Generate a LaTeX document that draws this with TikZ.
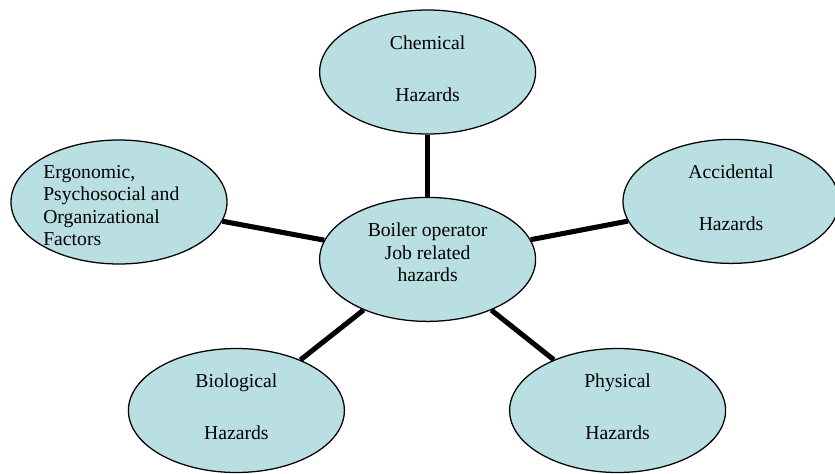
\documentclass[tikz,border=0pt]{standalone}
\usepackage{fontspec}
\setmainfont{Liberation Serif}
\usetikzlibrary{shapes.geometric}
\definecolor{bubblefill}{RGB}{185,223,227}

\begin{document}
\begin{tikzpicture}[
    bubble/.style={ellipse,draw=black,line width=0.9pt,fill=bubblefill,
        minimum width=5.4cm,minimum height=3.1cm,inner sep=0pt},
    bubbletext/.style={inner sep=0pt,align=center,font=\fontsize{14}{16}\selectfont},
    spoke/.style={line width=3.6pt}]
    %\draw[help lines] (0,0) grid (21,12);
    \useasboundingbox (0,0) rectangle (20.875,11.825);
    \node[bubble] (hub) at(10.69,5.34) {};
    \node[bubble] (chem) at(10.69,10.025) {};
    \node[bubble] (acc) at(18.275,6.79) {};
    \node[bubble] (ergo) at(2.975,6.775) {};
    \node[bubble] (bio) at(5.91,1.5625) {};
    \node[bubble] (phys) at(15.44,1.5625) {};
    \node[bubbletext,yshift=5pt] (hubtext) at(hub) {Boiler operator\\Job related\\hazards};
    \node[bubbletext,yshift=2.5pt] (chemtext) at(chem) {Chemical\\[21pt]Hazards};
    \node[bubbletext,yshift=2.5pt] (acctext) at(acc) {Accidental\\[21pt]Hazards};
    \node[bubbletext,yshift=2.5pt] (biotext) at(bio) {Biological\\[21pt]Hazards};
    \node[bubbletext,yshift=2.5pt] (phystext) at(phys) {Physical\\[21pt]Hazards};
    % text of the left bubble is cut off at the bottom
    \begin{scope}
        \clip (0.5,5.69) rectangle (6.5,9);
        \node[bubbletext,anchor=north west,align=left] (ergotext) at(1.075,7.7) {Ergonomic,\\Psychosocial and\\Organizational\\Factors};
    \end{scope}
    \draw[spoke] (hub) -- (chem);
    \draw[spoke] (hub) -- (acc);
    \draw[spoke] (hub) -- (ergo);
    \draw[spoke] (hub) -- (bio);
    \draw[spoke] (hub) -- (phys);
\end{tikzpicture}
\end{document}
